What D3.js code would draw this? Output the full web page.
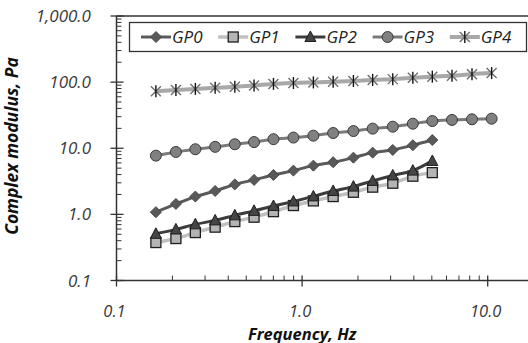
<!DOCTYPE html>
<html lang="en">
<head>
<meta charset="utf-8" />
<title>Complex modulus</title>
<script src="https://cdn.jsdelivr.net/npm/d3@7"></script>
<style>
  body { margin: 0; background: #fff; }
  text { font-family: "Open Sans", sans-serif; font-style: italic; }
</style>
</head>
<body>
<div id="chart"></div>
<script>
var width = 528, height = 343;

// frequency (Hz)
var freq = [0.163, 0.209, 0.266, 0.340, 0.434, 0.551, 0.701, 0.898, 1.15, 1.47, 1.89, 2.40, 3.08, 3.95, 5.03, 6.42, 8.23, 10.5];
var gp0 = [1.08, 1.44, 1.86, 2.26, 2.84, 3.32, 3.95, 4.59, 5.46, 6.15, 7.21, 8.58, 9.42, 11.1, 13.3];
var gp1 = [0.375, 0.431, 0.531, 0.641, 0.778, 0.907, 1.10, 1.36, 1.60, 1.86, 2.16, 2.58, 2.96, 3.78, 4.28];
var gp2 = [0.508, 0.593, 0.706, 0.811, 0.966, 1.13, 1.34, 1.57, 1.87, 2.26, 2.63, 3.21, 3.88, 4.59, 6.43];
var gp3 = [7.73, 8.79, 9.66, 10.5, 11.5, 12.4, 13.7, 14.5, 15.5, 17.0, 18.2, 19.8, 21.2, 23.5, 25.8, 26.8, 27.4, 28.0];
var gp4 = [73, 76, 79, 82, 85, 89, 94, 97, 99, 101, 104, 108, 111, 116, 121, 125, 132, 137];
var names = ["GP0", "GP1", "GP2", "GP3", "GP4"];
var xTicks = [0.1, 1, 10];
var yTicks = [0.1, 1, 10, 100, 1000];

var series = [
  { name: names[0], values: gp0, line: "#5a5a5a", lw: 3, marker: "diamond", fill: "#595959", stroke: "#4a4a4a" },
  { name: names[1], values: gp1, line: "#c0c0c0", lw: 3.5, marker: "square", fill: "#b4b4b4", stroke: "#1e1e1e" },
  { name: names[2], values: gp2, line: "#3c3c3c", lw: 3, marker: "triangle", fill: "#454545", stroke: "#1e1e1e" },
  { name: names[3], values: gp3, line: "#7a7a7a", lw: 3, marker: "circle", fill: "#808080", stroke: "#3a3a3a" },
  { name: names[4], values: gp4, line: "#a8a8a8", lw: 4, marker: "star", fill: "none", stroke: "#808080" }
];

var x = d3.scaleLog().domain([0.1, 20]).range([116.5, 116.5 + 185.6 * Math.log10(200)]);
var y = d3.scaleLog().domain([0.1, 1000]).range([280.5, 16]);

var svg = d3.select("#chart").append("svg")
  .attr("width", width).attr("height", height);

var axisCol = "#333";

// plot border (top)
svg.append("line").attr("x1", x(0.1)).attr("x2", width).attr("y1", y(1000)).attr("y2", y(1000))
  .attr("stroke", axisCol).attr("stroke-width", 1.3);

// minor ticks
var xMinor = [], yMinor = [];
[0.1, 1, 10].forEach(function(d) { for (var k = 2; k <= 9; k++) xMinor.push(d * k); });
[0.1, 1, 10, 100].forEach(function(d) { for (var k = 2; k <= 9; k++) yMinor.push(d * k); });

svg.selectAll(".xminor").data(xMinor).enter().append("line")
  .attr("x1", function(d) { return x(d); }).attr("x2", function(d) { return x(d); })
  .attr("y1", y(0.1) - 5).attr("y2", y(0.1))
  .attr("stroke", axisCol).attr("stroke-width", 1);
svg.selectAll(".yminor").data(yMinor).enter().append("line")
  .attr("y1", function(d) { return y(d); }).attr("y2", function(d) { return y(d); })
  .attr("x1", x(0.1)).attr("x2", x(0.1) + 5)
  .attr("stroke", axisCol).attr("stroke-width", 1);

// major ticks
svg.selectAll(".xmajor").data(xTicks).enter().append("line")
  .attr("x1", function(d) { return x(d); }).attr("x2", function(d) { return x(d); })
  .attr("y1", y(0.1) - 5).attr("y2", y(0.1) + 6)
  .attr("stroke", axisCol).attr("stroke-width", 1.3);
svg.selectAll(".ymajor").data(yTicks).enter().append("line")
  .attr("y1", function(d) { return y(d); }).attr("y2", function(d) { return y(d); })
  .attr("x1", x(0.1) - 6).attr("x2", x(0.1) + 7)
  .attr("stroke", axisCol).attr("stroke-width", 1.3);

// axis lines
svg.append("line").attr("x1", x(0.1)).attr("x2", width).attr("y1", y(0.1)).attr("y2", y(0.1))
  .attr("stroke", axisCol).attr("stroke-width", 1.5);
svg.append("line").attr("x1", x(0.1)).attr("x2", x(0.1)).attr("y1", y(1000)).attr("y2", y(0.1))
  .attr("stroke", axisCol).attr("stroke-width", 1.5);

// tick labels
var fmtY = function(d) { return d >= 1000 ? d3.format(",.1f")(d) : d3.format(".1f")(d); };
svg.selectAll(".ylab").data(yTicks).enter().append("text")
  .attr("x", 91).attr("y", function(d) { return y(d); }).attr("dy", "0.36em")
  .attr("text-anchor", "end").attr("font-size", 17).attr("fill", "#3a3a3a")
  .text(fmtY);
svg.selectAll(".xlab").data(xTicks).enter().append("text")
  .attr("x", function(d) { return x(d) - 2; }).attr("y", 317)
  .attr("text-anchor", "middle").attr("font-size", 16.5).attr("fill", "#3a3a3a")
  .text(d3.format(".1f"));

// axis titles
svg.append("text").attr("x", x(1)).attr("y", 339.5).attr("text-anchor", "middle")
  .attr("font-size", 16.5).attr("font-weight", "bold").attr("fill", "#111")
  .text("Frequency, Hz");
svg.append("text").attr("transform", "translate(18,146) rotate(-90)").attr("text-anchor", "middle")
  .attr("font-size", 17.5).attr("font-weight", "bold").attr("fill", "#111")
  .text("Complex modulus, Pa");

function drawMarker(g, s, cx, cy) {
  if (s.marker === "diamond") {
    g.append("path").attr("d", "M" + cx + "," + (cy - 5.5) + "L" + (cx + 5.5) + "," + cy + "L" + cx + "," + (cy + 5.5) + "L" + (cx - 5.5) + "," + cy + "Z")
      .attr("fill", s.fill).attr("stroke", s.stroke).attr("stroke-width", 1);
  } else if (s.marker === "square") {
    g.append("rect").attr("x", cx - 5).attr("y", cy - 5).attr("width", 10).attr("height", 10)
      .attr("fill", s.fill).attr("stroke", s.stroke).attr("stroke-width", 1.3);
  } else if (s.marker === "triangle") {
    g.append("path").attr("d", "M" + cx + "," + (cy - 6) + "L" + (cx + 5.5) + "," + (cy + 4.5) + "L" + (cx - 5.5) + "," + (cy + 4.5) + "Z")
      .attr("fill", s.fill).attr("stroke", s.stroke).attr("stroke-width", 1);
  } else if (s.marker === "circle") {
    g.append("circle").attr("cx", cx).attr("cy", cy).attr("r", 5.5)
      .attr("fill", s.fill).attr("stroke", s.stroke).attr("stroke-width", 1);
  } else if (s.marker === "star") {
    g.append("path").attr("d", "M" + (cx - 5) + "," + (cy - 5) + "L" + (cx + 5) + "," + (cy + 5) + "M" + (cx - 5) + "," + (cy + 5) + "L" + (cx + 5) + "," + (cy - 5))
      .attr("stroke", "#6e6e6e").attr("stroke-width", 1.4).attr("fill", "none");
    g.append("path").attr("d", "M" + cx + "," + (cy - 6) + "L" + cx + "," + (cy + 6))
      .attr("stroke", "#111").attr("stroke-width", 1.4);
  }
}

var line = d3.line()
  .x(function(d) { return x(d[0]); })
  .y(function(d) { return y(d[1]); })
  .curve(d3.curveMonotoneX);

series.forEach(function(s) {
  var pts = s.values.map(function(v, i) { return [freq[i], v]; });
  var g = svg.append("g");
  g.append("path").datum(pts).attr("d", line)
    .attr("fill", "none").attr("stroke", s.line).attr("stroke-width", s.lw);
  pts.forEach(function(p) { drawMarker(g, s, x(p[0]), y(p[1])); });
});

// legend
var leg = svg.append("g");
leg.append("rect").attr("x", 129.5).attr("y", 22.5).attr("width", 397).attr("height", 29)
  .attr("fill", "#fff").attr("stroke", "#333").attr("stroke-width", 1.3);
series.forEach(function(s, i) {
  var lx = 141 + i * 77.2, ly = 37;
  var g = leg.append("g");
  g.append("line").attr("x1", lx).attr("x2", lx + 30).attr("y1", ly).attr("y2", ly)
    .attr("stroke", s.line).attr("stroke-width", s.lw);
  drawMarker(g, s, lx + 15, ly);
  g.append("text").attr("x", lx + 31).attr("y", ly).attr("dy", "0.36em")
    .attr("font-size", 17).attr("fill", "#222").text(s.name);
});
</script>
</body>
</html>
